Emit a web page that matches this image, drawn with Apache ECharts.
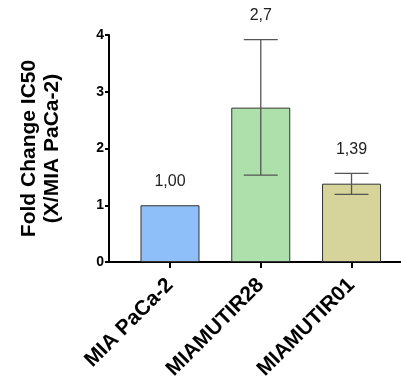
<!DOCTYPE html>
<html>
<head>
<meta charset="utf-8">
<script src="https://cdn.jsdelivr.net/npm/echarts@6/dist/echarts.min.js"></script>
<style>
html,body{margin:0;padding:0;background:#fff;}
#c{width:401px;height:383px;}
</style>
</head>
<body>
<div id="c"></div>
<script>
// ---- data ----
var categories = ['MIA PaCa-2', 'MIAMUTIR28', 'MIAMUTIR01'];
var means = [1.00, 2.72, 1.38];
var errLow = [null, 1.53, 1.19];
var errHigh = [null, 3.92, 1.56];
var valueLabels = ['1,00', '2,7', '1,39'];
var barColors = ['#8fbff8', '#aee0ac', '#d6d49a'];
var yTicks = [0, 1, 2, 3, 4];

var FONT = '"Liberation Sans", Arial, sans-serif';
var chart = echarts.init(document.getElementById('c'), null, {renderer: 'canvas'});

var barData = means.map(function (v, i) {
  return {value: [i, v], itemStyle: {color: barColors[i]}};
});
var errData = means.map(function (v, i) {
  return [i, v, errLow[i] == null ? v : errLow[i], errHigh[i] == null ? v : errHigh[i], errLow[i] == null ? 0 : 1];
});
var catIdx = categories.map(function (c, i) { return i; });

chart.setOption({
  animation: false,
  grid: {left: 109, right: 0, top: 35, bottom: 121},
  xAxis: {
    type: 'value',
    min: -0.672,
    max: 2.545,
    splitLine: {show: false},
    axisLine: {show: true, onZero: false, lineStyle: {color: '#000', width: 2}},
    axisTick: {show: true, customValues: catIdx, length: 6, lineStyle: {color: '#000', width: 2}},
    axisLabel: {
      customValues: catIdx,
      rotate: 45,
      margin: 20,
      fontSize: 21,
      fontWeight: 'bold',
      color: '#000',
      fontFamily: FONT,
      formatter: function (v) { return categories[Math.round(v)]; }
    }
  },
  yAxis: {
    type: 'value',
    min: yTicks[0],
    max: yTicks[yTicks.length - 1],
    interval: 1,
    splitLine: {show: false},
    axisLine: {show: true, onZero: false, lineStyle: {color: '#000', width: 2}},
    axisTick: {show: true, length: 4, lineStyle: {color: '#000', width: 2}},
    axisLabel: {fontSize: 14, fontWeight: 'bold', color: '#000', margin: 5, fontFamily: FONT},
    name: 'Fold Change IC50\n(X/MIA PaCa-2)',
    nameLocation: 'middle',
    nameRotate: 90,
    nameGap: 45,
    nameTextStyle: {fontSize: 21, fontWeight: 'bold', color: '#000', lineHeight: 23, fontFamily: FONT}
  },
  series: [
    {
      type: 'bar',
      data: barData,
      barWidth: 59,
      itemStyle: {borderColor: '#333', borderWidth: 1}
    },
    {
      type: 'custom',
      data: errData,
      z: 5,
      renderItem: function (params, api) {
        var x = api.value(0), m = api.value(1), lo = api.value(2), hi = api.value(3), has = api.value(4);
        var pM = api.coord([x, m]);
        var pLo = api.coord([x, lo]);
        var pHi = api.coord([x, hi]);
        var half = 17;
        var children = [];
        var st = {stroke: '#555', lineWidth: 1.3};
        if (has) {
          children.push({type: 'line', shape: {x1: pM[0], y1: pLo[1], x2: pM[0], y2: pHi[1]}, style: st});
          children.push({type: 'line', shape: {x1: pM[0] - half, y1: pHi[1], x2: pM[0] + half, y2: pHi[1]}, style: st});
          children.push({type: 'line', shape: {x1: pM[0] - half, y1: pLo[1], x2: pM[0] + half, y2: pLo[1]}, style: st});
        }
        var topY = Math.min(pM[1], pHi[1]);
        children.push({
          type: 'text',
          style: {
            text: valueLabels[params.dataIndex],
            x: pM[0], y: topY - 24,
            align: 'center', verticalAlign: 'middle',
            fontSize: 16, fontFamily: FONT, fill: '#222'
          }
        });
        return {type: 'group', children: children};
      }
    }
  ]
});
</script>
</body>
</html>
